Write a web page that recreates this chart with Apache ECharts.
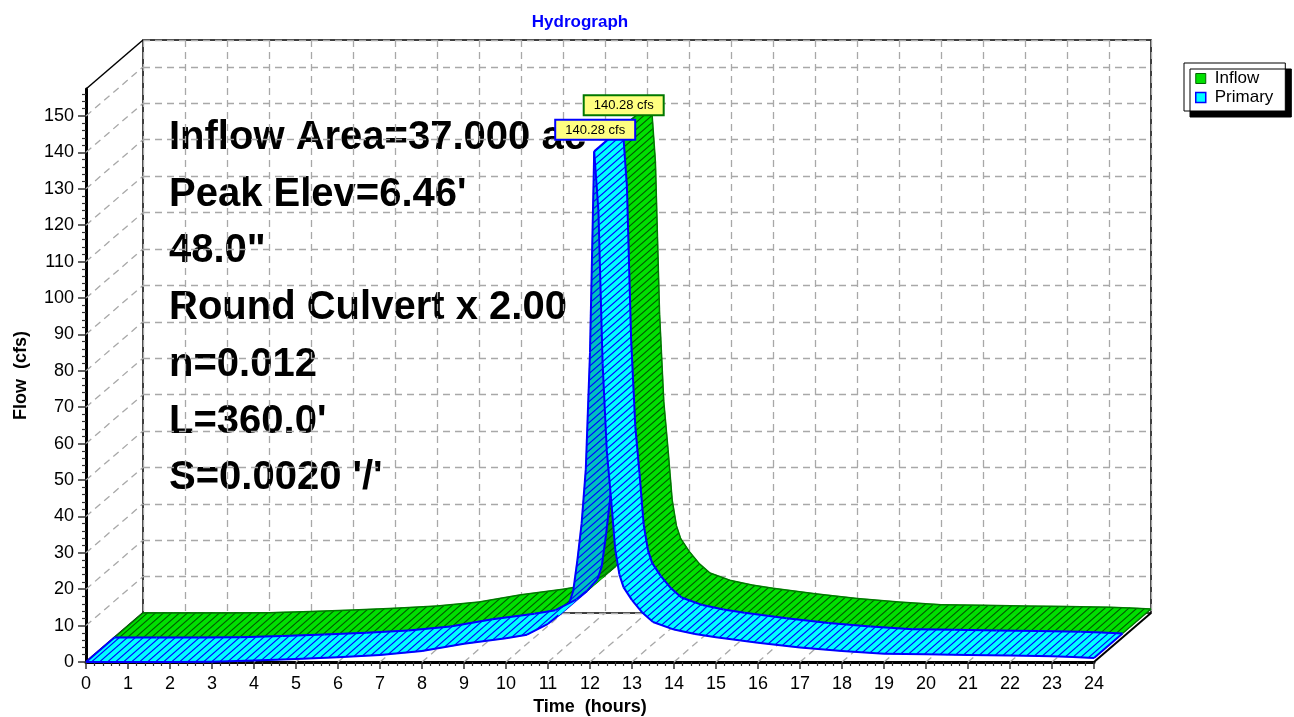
<!DOCTYPE html>
<html>
<head>
<meta charset="utf-8">
<title>Hydrograph</title>
<script src="https://cdn.jsdelivr.net/npm/echarts@6.0.0/dist/echarts.min.js"></script>
<style>
  html, body { margin: 0; padding: 0; background: #fff; }
  #chart { width: 1294px; height: 717px; }
</style>
</head>
<body>
<div id="chart"></div>
<script>
// hydrograph: time (hours) and flow (cfs)
var hours   = [0, 1, 2, 3, 4, 5, 6, 7, 8, 9, 10, 10.5, 11, 11.25, 11.5, 11.6, 11.7, 11.8, 11.9, 12.0,
               12.1, 12.2, 12.3, 12.4, 12.5, 12.6, 12.7, 12.8, 13.0, 13.25, 13.5, 14.0, 14.5, 15.0,
               16, 17, 18, 19, 20, 21, 22, 23, 23.5, 24];
var inflow  = [0, 0, 0, 0.1, 0.4, 0.8, 1.3, 1.9, 3.0, 5.0, 6.5, 7.5, 10.5, 12.8, 16, 19.5, 28, 38, 53, 85,
               140.28, 124, 82, 58, 45, 31, 24, 20.5, 17, 13.5, 11, 8.9, 7.7, 6.8,
               5.3, 4.0, 3.0, 2.3, 2.1, 1.9, 1.8, 1.6, 1.4, 1.1];
var primary = [0, 0, 0, 0.1, 0.4, 0.8, 1.3, 1.9, 3.0, 5.0, 6.5, 7.5, 10.5, 12.8, 16, 19.5, 28, 38, 53, 85,
               140.28, 124, 82, 58, 45, 31, 24, 20.5, 17, 13.5, 11, 8.9, 7.7, 6.8,
               5.3, 4.0, 3.0, 2.3, 2.1, 1.9, 1.8, 1.6, 1.4, 1.1];
var hourTicks = [0, 1, 2, 3, 4, 5, 6, 7, 8, 9, 10, 11, 12, 13, 14, 15, 16, 17, 18, 19, 20, 21, 22, 23, 24];
var flowTicks = [0, 10, 20, 30, 40, 50, 60, 70, 80, 90, 100, 110, 120, 130, 140, 150];
var notes = ['Inflow Area=37.000 ac', 'Peak Elev=6.46\'', '48.0"', 'Round Culvert x 2.00',
             'n=0.012', 'L=360.0\'', 'S=0.0020 \'/\''];
var peakText = '140.28 cfs';

var FONT = '"Liberation Sans", Arial, sans-serif';
var Y_MAX = 157.4;
var DX = 57, DY = -49;   // shift from the front plane to the back wall, px

var chart = echarts.init(document.getElementById('chart'));

var dashed = { stroke: '#a8a8a8', lineWidth: 1.3, lineDash: [7, 5] };
var solid = { stroke: '#000', lineWidth: 1.5 };

// 8x7 tile with one "/" stroke, roughly along the depth direction
function hatchTile(bg, ink) {
  var cv = document.createElement('canvas');
  cv.width = 8; cv.height = 7;
  var g = cv.getContext('2d');
  g.fillStyle = bg;
  g.fillRect(0, 0, 8, 7);
  g.strokeStyle = ink;
  g.lineWidth = 1.1;
  for (var x0 = -8; x0 <= 8; x0 += 8) {
    g.beginPath();
    g.moveTo(x0 - 8, 14);
    g.lineTo(x0 + 16, -7);
    g.stroke();
  }
  return { type: 'pattern', image: cv, repeat: 'repeat' };
}

function facesDown(p, q, w) {
  return (q[0] - p[0]) * w[1] - (q[1] - p[1]) * w[0] > 0;
}

// one ribbon segment per data point, drawn between depth d0 and d1.
// underside pieces sit below the top-side pieces
function ribbon(vals, d0, d1, look) {
  var peak = vals.indexOf(Math.max.apply(null, vals));
  var topFill = hatchTile(look.top, look.hatch);
  var underFill = hatchTile(look.under, look.hatch);
  return function (params, api) {
    var i = params.dataIndex;
    if (i >= hours.length - 1) return null;
    var p = api.coord([hours[i], vals[i]]);
    var q = api.coord([hours[i + 1], vals[i + 1]]);
    var a = [p[0] + DX * d0, p[1] + DY * d0];
    var b = [q[0] + DX * d0, q[1] + DY * d0];
    var w = [DX * (d1 - d0), DY * (d1 - d0)];
    var c = [b[0] + w[0], b[1] + w[1]];
    var d = [a[0] + w[0], a[1] + w[1]];
    var back = facesDown(a, b, w);
    var z = back ? 0 : 2;
    var fill = back ? underFill : topFill;
    var kids = [{
      type: 'polygon', z2: z, shape: { points: [a, b, c, d] },
      style: { fill: fill, stroke: fill, lineWidth: 0.8 }
    }];
    var edge = { stroke: look.edge, lineWidth: look.edgeWidth };
    kids.push({ type: 'line', z2: z + 1, shape: { x1: a[0], y1: a[1], x2: b[0], y2: b[1] }, style: edge });
    kids.push({ type: 'line', z2: z + 1, shape: { x1: d[0], y1: d[1], x2: c[0], y2: c[1] }, style: edge });
    var turn = false;
    if (i > 0) {
      var o = api.coord([hours[i - 1], vals[i - 1]]);
      turn = facesDown(o, p, w) !== back;
    }
    if (i === 0 || turn) {
      kids.push({ type: 'line', z2: z + 1, shape: { x1: a[0], y1: a[1], x2: d[0], y2: d[1] }, style: edge });
    }
    if (i === hours.length - 2) {
      kids.push({ type: 'line', z2: z + 1, shape: { x1: b[0], y1: b[1], x2: c[0], y2: c[1] }, style: edge });
    }
    if (i === peak) {
      kids.push({
        type: 'text', z2: 100,
        style: {
          text: peakText, x: a[0] + 1, y: a[1] - 12.5, align: 'center', verticalAlign: 'bottom',
          font: '13px ' + FONT, fill: '#000', backgroundColor: '#ffff80',
          borderColor: look.edge, borderWidth: 2, padding: [3, 9, 2, 9]
        }
      });
    }
    return { type: 'group', children: kids };
  };
}

function toPairs(vals) {
  return hours.map(function (h, k) { return [h, vals[k]]; });
}

var option = {
  animation: false,
  backgroundColor: '#fff',
  textStyle: { fontFamily: FONT },
  title: {
    text: 'Hydrograph', left: 575, top: 9, textAlign: 'center',
    textStyle: { color: '#0000ff', fontSize: 17, fontWeight: 'bold', fontFamily: FONT }
  },
  legend: {
    orient: 'vertical', left: 1184, top: 63,
    data: [
      { name: 'Inflow', itemStyle: { color: '#00e000', borderColor: '#006400', borderWidth: 1 } },
      { name: 'Primary', itemStyle: { color: '#00ffff', borderColor: '#0000ff', borderWidth: 1.5 } }
    ],
    icon: 'rect', itemWidth: 10, itemHeight: 10, itemGap: 2,
    padding: [7, 12, 5, 11],
    backgroundColor: '#fff', borderColor: '#000', borderWidth: 1, borderRadius: 0,
    shadowColor: '#000', shadowBlur: 0, shadowOffsetX: 6, shadowOffsetY: 6,
    selectedMode: false,
    textStyle: { fontSize: 17, color: '#000', fontFamily: FONT, padding: [0, 0, 0, 4] }
  },
  grid: [
    { left: 86, right: 200, top: 89, bottom: 55, outerBoundsMode: 'none' },
    { left: 143, right: 143, top: 40, bottom: 104, outerBoundsMode: 'none',
      show: true, borderColor: '#000', borderWidth: 1.5 }
  ],
  xAxis: [
    {
      type: 'value', gridIndex: 0, min: 0, max: 24, interval: 1,
      name: 'Time  (hours)', nameLocation: 'middle', nameGap: 34,
      nameTextStyle: { fontSize: 18, fontWeight: 'bold', color: '#000', fontFamily: FONT },
      axisLine: { lineStyle: { color: '#000', width: 3 } },
      axisTick: { length: 7, lineStyle: { color: '#333', width: 1.5 } },
      minorTick: { show: true, splitNumber: 5, length: 4, lineStyle: { color: '#333', width: 1.2 } },
      axisLabel: { fontSize: 18, color: '#000', margin: 13, fontFamily: FONT },
      splitLine: { show: false }
    },
    {
      type: 'value', gridIndex: 1, min: 0, max: 24, interval: 1,
      axisLine: { show: false }, axisTick: { show: false }, axisLabel: { show: false },
      splitLine: { show: true, lineStyle: { color: '#a8a8a8', width: 1.3, type: [7, 5] } }
    }
  ],
  yAxis: [
    {
      type: 'value', gridIndex: 0, min: 0, max: Y_MAX, interval: 10,
      name: 'Flow  (cfs)', nameLocation: 'middle', nameGap: 56,
      nameTextStyle: { fontSize: 18, fontWeight: 'bold', color: '#000', fontFamily: FONT },
      axisLine: { show: true, lineStyle: { color: '#000', width: 3 } },
      axisTick: { show: true, length: 8, customValues: flowTicks, lineStyle: { color: '#333', width: 1.5 } },
      minorTick: { show: true, splitNumber: 5, length: 4, lineStyle: { color: '#333', width: 1.2 } },
      axisLabel: {
        fontSize: 18, color: '#000', margin: 12, fontFamily: FONT, customValues: flowTicks,
        formatter: function (v) { return v % 10 === 0 ? String(v) : ''; }
      },
      splitLine: { show: false }
    },
    {
      type: 'value', gridIndex: 1, min: 0, max: Y_MAX, interval: 10,
      axisLine: { show: false }, axisTick: { show: false }, axisLabel: { show: false },
      splitLine: { show: true, lineStyle: { color: '#a8a8a8', width: 1.3, type: [7, 5] } }
    }
  ],
  graphic: [{
    type: 'group', z: 2, silent: true,
    children: notes.map(function (s, k) {
      return {
        type: 'text', x: 169, y: 138 + 56.7 * k,
        style: { text: s, font: 'bold 40px ' + FONT, fill: '#000', verticalAlign: 'middle' }
      };
    })
  }],
  series: [
    {
      name: 'floor', type: 'custom', xAxisIndex: 0, yAxisIndex: 0, z: 1, silent: true,
      data: hourTicks.map(function (h) { return [h, 0]; }),
      renderItem: function (params, api) {
        var h = api.value(0);
        var p = api.coord([h, 0]);
        var st = (h === 0 || h === 24) ? { stroke: '#000', lineWidth: 2 } : dashed;
        return { type: 'line', shape: { x1: p[0], y1: p[1], x2: p[0] + DX, y2: p[1] + DY }, style: st };
      }
    },
    {
      name: 'wall', type: 'custom', xAxisIndex: 0, yAxisIndex: 0, z: 1, silent: true,
      data: flowTicks.map(function (v) { return [0, v]; }),
      renderItem: function (params, api) {
        var v = api.value(1);
        if (v === 0) {
          var top = api.coord([0, Y_MAX]);
          return { type: 'line', shape: { x1: top[0], y1: top[1], x2: top[0] + DX, y2: top[1] + DY }, style: solid };
        }
        var p = api.coord([0, v]);
        return { type: 'line', shape: { x1: p[0], y1: p[1], x2: p[0] + DX, y2: p[1] + DY }, style: dashed };
      }
    },
    {
      name: 'Inflow', type: 'custom', xAxisIndex: 0, yAxisIndex: 0, z: 3, silent: true,
      itemStyle: { color: '#00e000' },
      data: toPairs(inflow),
      renderItem: ribbon(inflow, 0.5, 1, {
        top: '#00e000', under: '#00b000', edge: '#007800', edgeWidth: 1.5, hatch: '#005a00'
      })
    },
    {
      name: 'Primary', type: 'custom', xAxisIndex: 0, yAxisIndex: 0, z: 4, silent: true,
      itemStyle: { color: '#00ffff' },
      data: toPairs(primary),
      renderItem: ribbon(primary, 0, 0.5, {
        top: '#00ffff', under: '#00c0c0', edge: '#0000ff', edgeWidth: 2, hatch: '#0000ff'
      })
    }
  ]
};

chart.setOption(option);
</script>
</body>
</html>
